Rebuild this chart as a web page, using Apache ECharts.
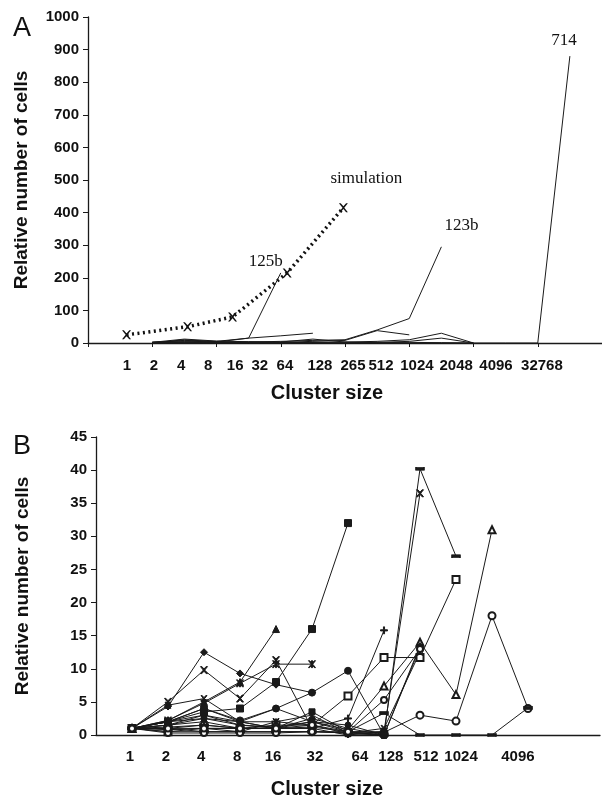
<!DOCTYPE html>
<html>
<head>
<meta charset="utf-8">
<script src="https://cdn.jsdelivr.net/npm/echarts@6/dist/echarts.min.js"></script>
<style>
  html, body { margin: 0; padding: 0; background: #fff; }
  #chart { width: 602px; height: 800px; }
</style>
</head>
<body>
<div id="chart"></div>
<script>
// panel A: tick labels on the cluster-size axis
const labelsA = ["1", "2", "4", "8", "16", "32", "64", "128", "265", "512", "1024", "2048", "4096", "32768"];
const labelPosA = [1.21, 2.05, 2.9, 3.74, 4.58, 5.35, 6.13, 7.22, 8.25, 9.12, 10.24, 11.46, 12.7, 14.13];

// panel A: measured lines, one value per slot (slot 0..15)
const a125b = [null, null, 2, 8, 5, 15, 215, null, null, null, null, null, null, null, null, null];
const a123b = [null, null, 1, 3, 2, 3, 5, 8, 10, 40, 75, 295, null, null, null, null];
const a714 = [null, null, 0, 1, 0, 0, 0, 0, 0, 0, 0, 0, 0, 0, 0, 880];
const aLine4 = [null, null, 3, 6, 3, 15, 22, 30, null, null, null, null, null, null, null, null];
const aLine5 = [null, null, 0, 10, 4, 3, 2, 5, 8, 38, 25, null, null, null, null, null];
const aLine6 = [null, null, 1, 4, 2, 1, 1, 2, 3, 5, 10, 30, 0, null, null, null];
const aLine7 = [null, null, 0, 2, 1, 1, 2, 1, 1, 2, 5, 15, 0, null, null, null];
const aLine8 = [null, null, 2, 12, 6, 4, 3, 12, 3, 1, 2, 1, 0, null, null, null];

// panel A: simulation
const simX = [1.2, 3.1, 4.5, 6.2, 7.95];
const simY = [25, 50, 80, 215, 415];

// panel B: tick labels
const labelsB = ["1", "2", "4", "8", "16", "32", "64", "128", "512", "1024", "4096"];
const labelPosB = [0.94, 1.94, 2.92, 3.92, 4.92, 6.08, 7.33, 8.19, 9.17, 10.14, 11.72];

// panel B: one value per category 1,2,4,8,16,32,64,128,512,1024,(blank),4096
const b1 = [1, 2, 3.5, 4, 8, 16, 32];
const b2 = [1, 2.2, 5, 8, 16];
const b3 = [1, 4.3, 12.5, 9.3, 7.6, 6.4];
const b4 = [1, 5, 9.8, 5.5, 11.3, 1];
const b5 = [1, 2.2, 4.8, 7.8, 10.7, 10.7];
const b6 = [1, 1.2, 1.5, 1, 1, 1.2, 0.5, 0, 40.2, 27];
const b7 = [1, 2, 2.5, 1.5, 1.2, 2, 0.5, 0.5, 36.5];
const b8 = [1, 1.5, 2, 1, 1, 2, 0.8, 7.4, 14, 6.1, 31];
const b9 = [1, 0.8, 1, 0.5, 0.5, 0.5, 0.3, 0.4, 3, 2.1, 18, 4];
const b10 = [1, 0.5, 1, 1, 1.5, 1.5, 5.9, 11.7, 11.7, 23.5];
const b11 = [1, 1, 1.5, 1, 1, 1, 2.5, 15.8];
const b12 = [1, 2, 4, 2.2, 4, 6.4, 9.7, 0];
const b13 = [1, 1, 0.5, 0.5, 0.5, 0.5, 0.5, 3.3, 0, 0, 0, 4.1];
const b14 = [1, 1.5, 3, 2, 1, 2.5, 1, 0, 13.5];
const b15 = [1, 2, 4, 2, 1, 3.5, 0.5, 0, 13.2];
const b16 = [1, 4.5, 5.5, 2, 2, 3, 0.3, 1, 12.5];
const b17 = [1, 2, 3, 1.5, 1, 1, 0, 0.5];
const b18 = [1, 0.5, 0.5, 0.5, 2, 1.5, 0.2, 0];
const b19 = [1, 0.3, 0.3, 0.3, 0.3, 0.5, 0.3, 0];
const b20 = [1, 1.5, 2.5, 2, 4, 2, 1.5, 0];
const b21 = [1, 1, 1, 1, 1, 1.5, 0.5, 5.3, 13];

const xPath = "path://M0,0L2,0L5,3.5L8,0L10,0L6,5L10,10L8,10L5,6.5L2,10L0,10L4,5Z";
const plusPath = "path://M4.2,0H5.8V4.2H10V5.8H5.8V10H4.2V5.8H0V4.2H4.2Z";
const starPath = "path://M0,0L1.5,0L5,3.8L8.5,0L10,0L6,5L10,10L8.5,10L5,6.2L1.5,10L0,10L4,5Z M4.3,0H5.7V10H4.3Z";

function pairs(arr, offset) {
  const out = [];
  arr.forEach((v, i) => {
    if (v != null) out.push([i + offset, v]);
  });
  return out;
}

function nearestLabel(v, pos, labels) {
  let best = 0;
  pos.forEach((p, i) => {
    if (Math.abs(p - v) < Math.abs(pos[best] - v)) best = i;
  });
  return labels[best];
}

// put a text note above the last point of a series
function note(data, text, offset) {
  const last = data[data.length - 1];
  data[data.length - 1] = {
    value: last,
    label: {
      show: true,
      formatter: text,
      position: "top",
      distance: 5,
      offset: offset,
      fontFamily: "Liberation Serif",
      fontSize: 17,
      color: "#111",
    },
  };
  return data;
}

const ink = "#1a1a1a";
const tickFont = { fontFamily: "Liberation Sans", fontWeight: "bold", fontSize: 15, color: "#111" };
const nameFont = { fontFamily: "Liberation Sans", fontWeight: "bold", fontSize: 19, color: "#111" };

function lineA(data) {
  return {
    type: "line",
    xAxisIndex: 0,
    yAxisIndex: 0,
    data: data,
    symbol: "circle",
    symbolSize: 0.1,
    showAllSymbol: true,
    itemStyle: { color: ink },
    lineStyle: { color: ink, width: 1 },
    z: 2,
  };
}

function lineB(arr, symbol, size) {
  return {
    type: "line",
    xAxisIndex: 1,
    yAxisIndex: 1,
    data: pairs(arr, 1),
    symbol: symbol,
    symbolSize: size,
    showAllSymbol: true,
    itemStyle: { color: ink, borderColor: ink, borderWidth: 1 },
    lineStyle: { color: ink, width: 1 },
  };
}

const ticksA = [];
for (let i = 0; i <= 16; i += 2) ticksA.push(i);

const chart = echarts.init(document.getElementById("chart"));

const option = {
  animation: false,
  backgroundColor: "#fff",
  title: [
    { text: "A", left: 8, top: 10, textStyle: { fontFamily: "Liberation Sans", fontWeight: "normal", fontSize: 27, color: "#111" } },
    { text: "B", left: 8, top: 428, textStyle: { fontFamily: "Liberation Sans", fontWeight: "normal", fontSize: 27, color: "#111" } },
  ],
  grid: [
    { left: 88, top: 17, width: 514, height: 326 },
    { left: 96, top: 437, width: 504, height: 303 },
  ],
  xAxis: [
    {
      gridIndex: 0,
      type: "value",
      min: 0,
      max: 16,
      axisLine: { lineStyle: { color: ink, width: 1.3 } },
      axisTick: { customValues: ticksA, length: 4, lineStyle: { color: ink } },
      axisLabel: Object.assign({
        customValues: labelPosA,
        margin: 15,
        formatter: (v) => nearestLabel(v, labelPosA, labelsA),
      }, tickFont),
      splitLine: { show: false },
      name: "Cluster size",
      nameLocation: "middle",
      nameGap: 40,
      nameTextStyle: Object.assign({ padding: [0, 36, 0, 0] }, nameFont, { fontSize: 20 }),
    },
    {
      gridIndex: 1,
      type: "value",
      min: 0,
      max: 14,
      axisLine: { lineStyle: { color: ink, width: 1.3 } },
      axisTick: { show: false },
      axisLabel: Object.assign({
        customValues: labelPosB,
        margin: 14,
        formatter: (v) => nearestLabel(v, labelPosB, labelsB),
      }, tickFont),
      splitLine: { show: false },
      name: "Cluster size",
      nameLocation: "middle",
      nameGap: 44,
      nameTextStyle: Object.assign({ padding: [0, 42, 0, 0] }, nameFont, { fontSize: 20 }),
    },
  ],
  yAxis: [
    {
      gridIndex: 0,
      type: "value",
      min: 0,
      max: 1000,
      interval: 100,
      axisLine: { show: true, lineStyle: { color: ink, width: 1.3 } },
      axisTick: { show: true, length: 5, lineStyle: { color: ink } },
      axisLabel: Object.assign({ margin: 9, formatter: (v) => String(v) }, tickFont),
      splitLine: { show: false },
      name: "Relative number of cells",
      nameLocation: "middle",
      nameGap: 57,
      nameTextStyle: nameFont,
    },
    {
      gridIndex: 1,
      type: "value",
      min: 0,
      max: 45,
      interval: 5,
      axisLine: { show: true, lineStyle: { color: ink, width: 1.3 } },
      axisTick: { show: true, length: 5, lineStyle: { color: ink } },
      axisLabel: Object.assign({ margin: 9, formatter: (v) => String(v) }, tickFont),
      splitLine: { show: false },
      name: "Relative number of cells",
      nameLocation: "middle",
      nameGap: 64,
      nameTextStyle: nameFont,
    },
  ],
  series: [
    lineA(note(pairs(a125b, 0), "125b", [-15, 2])),
    lineA(note(pairs(a123b, 0), "123b", [20, -8])),
    lineA(note(pairs(a714, 0), "714", [-6, -2])),
    lineA(pairs(aLine4, 0)),
    lineA(pairs(aLine5, 0)),
    lineA(pairs(aLine6, 0)),
    lineA(pairs(aLine7, 0)),
    lineA(pairs(aLine8, 0)),
    {
      type: "line",
      xAxisIndex: 0,
      yAxisIndex: 0,
      data: note(simX.map((x, i) => [x, simY[i]]), "simulation", [23, -11]),
      symbol: xPath,
      symbolSize: 9,
      itemStyle: { color: "#111" },
      lineStyle: { color: "#111", width: 3.5, type: [2, 3.5] },
      z: 3,
    },
    lineB(b1, "rect", 7),
    lineB(b2, "triangle", 7),
    lineB(b3, "diamond", 7),
    lineB(b4, xPath, 7),
    lineB(b5, starPath, 7),
    lineB(b6, "rect", [8, 3]),
    lineB(b7, xPath, 7),
    lineB(b8, "emptyTriangle", 7),
    lineB(b9, "emptyCircle", 7),
    lineB(b10, "emptyRect", 7),
    lineB(b11, plusPath, 7),
    lineB(b12, "circle", 7),
    lineB(b13, "rect", [8, 3]),
    lineB(b14, "triangle", 6),
    lineB(b15, "rect", 6),
    lineB(b16, xPath, 6),
    lineB(b17, "diamond", 6),
    lineB(b18, starPath, 6),
    lineB(b19, "emptyCircle", 6),
    lineB(b20, "circle", 6),
    lineB(b21, "emptyCircle", 6),
  ],
};

chart.setOption(option);
window.addEventListener("resize", () => {
  chart.resize();
});
</script>
</body>
</html>
